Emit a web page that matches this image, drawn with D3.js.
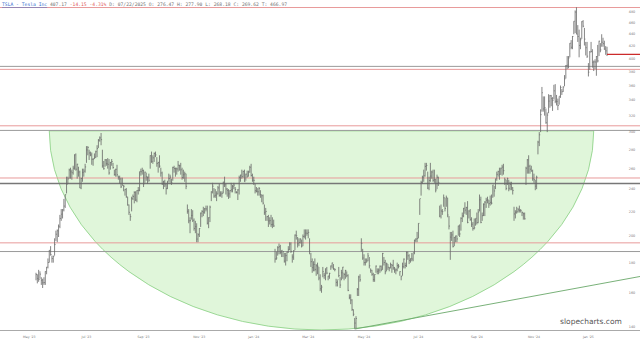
<!DOCTYPE html>
<html><head><meta charset="utf-8">
<script src="https://cdn.jsdelivr.net/npm/d3@7"></script>
<style>html,body{margin:0;padding:0;background:#fff;overflow:hidden}</style>
</head><body>
<svg id="chart" width="640" height="341"></svg>
<script>
// ---------------- DATA ----------------
const ticker = "TSLA - Tesla Inc";
const headerLast = "407.17";
const headerChange = "-14.15 -4.31%";
const headerRest = "D: 07/22/2025 O: 276.47 H: 277.90 L: 268.18 C: 269.62 T: 466.97";

const firstDay = "2023-05-08", lastDay = "2025-01-24";
const holidays = ["2023-05-29","2023-06-19","2023-07-04","2023-09-04","2023-11-23","2023-12-25",
  "2024-01-01","2024-01-15","2024-02-19","2024-03-29","2024-05-27","2024-06-19","2024-07-04",
  "2024-09-02","2024-11-28","2024-12-25","2025-01-01","2025-01-09","2025-01-20"];

const closes = [
 171.8,169.2,168.5,172.1,168.0,166.4,166.5,173.9,176.9,180.1,188.9,185.8,182.9,184.5,193.2,201.2,203.9,
 207.5,214.0,217.6,221.3,224.6,234.9,244.4,249.8,258.7,256.8,255.9,260.5,274.5,259.5,264.6,256.6,241.1,250.2,256.2,257.5,261.8,
 279.8,282.5,276.5,274.4,269.6,269.8,272.0,277.9,281.4,290.4,293.3,291.3,262.9,260.0,269.1,265.3,264.4,255.7,266.4,267.4,
 261.1,254.1,259.3,253.9,251.5,249.7,242.2,245.3,242.7,239.8,233.0,225.6,219.2,215.5,231.3,233.2,236.9,230.0,238.6,238.8,257.2,256.9,258.1,
 245.0,256.5,251.9,251.5,248.5,273.6,267.5,271.3,276.0,274.4,265.3,266.5,262.6,255.7,244.9,247.0,244.1,240.5,246.4,250.2,
 251.6,246.5,261.2,260.1,260.5,259.7,263.6,263.0,258.9,251.1,253.9,254.9,242.7,220.1,212.0,212.1,216.5,212.4,205.8,207.3,197.4,200.8,
 205.7,218.5,220.0,219.3,222.2,222.1,210.0,214.7,223.7,237.4,242.8,233.6,234.3,235.6,241.2,234.2,235.5,236.1,246.7,244.1,240.1,
 238.8,235.6,238.7,239.4,242.6,243.8,239.7,237.0,239.3,251.1,253.5,252.1,257.2,247.1,254.5,252.5,256.6,261.4,253.2,248.5,
 248.4,238.5,237.9,237.5,240.5,235.0,233.9,227.2,218.9,219.9,215.6,211.9,212.2,208.8,209.1,207.8,182.6,183.3,190.9,191.6,187.3,
 188.9,187.9,181.1,185.1,187.6,189.6,193.6,188.1,184.0,188.7,200.5,200.0,193.8,194.8,197.4,192.0,199.4,199.7,202.0,201.9,
 202.6,188.1,180.7,176.5,178.7,175.3,177.8,177.5,169.5,162.5,163.6,173.8,171.3,175.7,172.8,170.8,172.6,177.7,179.8,175.8,
 175.2,166.6,168.4,171.1,164.9,173.0,176.9,171.8,174.6,171.1,161.5,157.1,155.5,149.9,147.1,142.1,144.7,162.1,170.2,168.3,194.1,183.3,
 180.0,180.0,181.2,184.8,177.8,174.7,172.0,168.5,171.9,177.6,174.0,174.8,177.5,175.0,186.6,180.1,173.7,179.2,176.8,176.2,178.8,178.1,
 176.3,174.8,175.0,177.9,177.5,173.8,170.7,177.3,182.5,178.0,187.4,184.9,181.6,183.0,182.6,187.4,196.4,197.4,197.9,
 209.9,231.3,246.4,251.5,252.9,262.3,263.3,241.0,248.2,252.6,256.6,248.5,249.2,239.2,251.5,246.4,216.0,220.3,219.8,232.1,222.6,232.1,
 216.9,207.7,198.9,200.6,191.8,198.8,200.0,197.5,207.8,201.4,214.1,216.1,222.7,221.1,223.3,210.7,220.3,213.2,209.2,205.8,206.3,214.1,
 210.6,219.4,230.2,210.7,216.3,226.2,228.1,229.8,230.3,226.8,227.9,227.2,243.9,238.3,250.0,254.3,257.0,254.2,260.5,261.6,
 258.0,249.0,240.7,250.1,240.8,244.5,241.1,238.8,217.8,219.2,219.6,221.3,220.9,220.7,218.9,218.0,213.7,260.5,269.2,262.5,259.5,257.6,249.9,
 249.0,242.8,251.4,288.5,296.9,321.2,350.0,328.5,330.2,311.2,320.7,338.7,346.0,342.0,339.6,352.6,338.6,338.2,332.9,345.2,
 357.1,351.4,357.9,369.5,389.2,389.8,401.0,424.8,418.1,436.2,463.0,479.9,440.1,436.2,421.1,430.6,462.3,454.1,431.7,417.4,403.8,
 379.3,410.4,411.1,394.4,394.9,394.7,403.3,396.4,428.2,413.8,426.5,424.1,415.1,412.4,406.6
];
const lowHigh = [
 [168,173],[166,172],[167,175],[169,174],[165,170],[163,169],[165,170],[165,174],[172,177],[176,183],[180,189],[185,192],[180,185],[180,185],[185,198],[196,204],[195,205],
 [199,209],[206,217],[212,222],[214,222],[220,231],[223,235],[236,252],[245,252],[250,260],[250,261],[249,259],[254,263],[259,275],[258,276],[250,265],[252,262],[241,258],[240,251],[247,260],[252,260],[256,265],
 [266,284],[274,284],[269,280],[273,278],[264,277],[263,271],[270,276],[271,279],[272,285],[282,292],[289,295],[285,299],[261,280],[259,268],[262,270],[263,270],[260,271],[254,270],[259,267],[263,270],
 [260,266],[253,259],[252,260],[252,264],[249,253],[245,253],[241,251],[243,251],[238,244],[234,240],[232,241],[225,233],[217,226],[212,218],[220,233],[230,235],[227,238],[229,238],[228,239],[235,242],[238,257],[253,260],[254,261],
 [242,259],[246,257],[248,256],[245,252],[247,255],[260,274],[266,278],[265,274],[267,277],[272,278],[262,272],[256,267],[261,274],[252,261],[244,257],[240,248],[242,249],[235,245],[240,248],[247,255],
 [246,254],[244,250],[248,262],[256,263],[252,261],[254,261],[257,268],[258,264],[254,266],[249,261],[250,259],[247,257],[240,255],[218,226],[210,222],[202,215],[213,222],[211,221],[204,214],[202,212],[195,210],[195,202],
 [199,206],[207,219],[215,221],[216,224],[218,223],[220,225],[209,225],[206,215],[211,225],[229,238],[236,246],[232,241],[232,240],[229,238],[235,243],[233,245],[233,238],[232,238],[236,247],[242,252],[235,245],
 [233,241],[231,240],[232,239],[237,246],[237,244],[240,246],[236,242],[236,238],[230,240],[235,253],[247,254],[250,259],[251,258],[247,259],[248,255],[251,258],[252,258],[256,263],[252,265],[247,255],
 [244,252],[236,245],[237,242],[234,241],[234,242],[232,239],[228,235],[226,235],[217,226],[212,223],[212,216],[207,217],[209,215],[207,217],[206,215],[207,213],[180,190],[182,188],[185,192],[186,194],[186,193],
 [184,189],[184,188],[180,187],[178,187],[181,188],[187,192],[189,195],[187,195],[180,186],[182,189],[189,201],[197,204],[191,199],[192,198],[194,198],[191,197],[192,201],[198,205],[197,205],[200,205],
 [198,205],[186,198],[177,187],[173,183],[174,181],[174,183],[171,179],[172,180],[168,177],[161,172],[160,165],[170,177],[169,173],[168,176],[172,177],[168,171],[169,173],[175,178],[176,180],[175,179],
 [174,176],[164,169],[164,168],[170,177],[163,170],[168,175],[169,177],[168,173],[169,175],[170,174],[161,172],[156,159],[153,159],[149,156],[146,150],[139,145],[139,146],[158,163],[158,171],[167,172],[188,198],[182,190],
 [178,186],[178,183],[180,183],[181,187],[176,184],[173,176],[171,175],[167,173],[167,172],[173,178],[172,176],[172,176],[173,178],[174,178],[175,187],[178,184],[172,182],[174,180],[175,179],[174,177],[176,180],[173,179],
 [175,182],[173,177],[172,176],[174,180],[176,179],[171,174],[168,171],[171,180],[176,183],[176,180],[177,188],[182,188],[179,186],[180,183],[181,187],[181,187],[186,197],[195,198],[195,203],
 [198,210],[217,231],[234,248],[245,253],[247,259],[252,266],[258,266],[240,257],[239,252],[247,266],[250,258],[247,259],[246,259],[237,250],[240,254],[243,252],[215,225],[214,226],[217,222],[224,235],[220,232],[224,234],
 [215,232],[205,216],[182,203],[196,203],[191,204],[192,199],[195,200],[195,200],[200,208],[199,209],[204,215],[211,219],[215,223],[218,228],[217,224],[210,229],[214,221],[212,222],[207,215],[204,211],[205,214],[208,214],
 [209,219],[210,222],[220,235],[210,233],[212,219],[216,227],[216,229],[223,232],[227,233],[223,230],[225,234],[226,235],[232,244],[233,243],[240,250],[248,257],[252,258],[249,261],[254,261],[253,264],
 [254,265],[244,251],[239,249],[244,251],[238,249],[239,247],[239,247],[235,242],[212,224],[214,221],[218,224],[219,223],[219,225],[219,222],[216,220],[213,219],[213,219],[244,262],[255,270],[255,274],[255,264],[257,263],[248,259],
 [246,255],[239,249],[240,253],[275,290],[284,300],[300,328],[325,358],[325,345],[320,345],[310,329],[300,324],[323,348],[330,347],[332,347],[326,344],[341,361],[336,362],[333,347],[327,342],[334,345],
 [343,360],[347,355],[351,359],[359,375],[370,390],[384,404],[385,404],[402,425],[415,430],[415,437],[440,463],[442,483],[440,489],[427,456],[402,448],[415,434],[432,463],[452,465],[421,451],[405,427],[401,427],
 [373,393],[383,412],[410,427],[386,415],[381,397],[384,399],[374,404],[394,422],[404,429],[410,425],[419,440],[419,434],[414,429],[406,420],[404,419]
];

const yTicks = [140,160,180,200,220,240,260,280,300,320,340,360,380,400,420,440,460,480];
const xTickMonths = ["2023-05","2023-07","2023-09","2023-11","2024-01","2024-03","2024-05","2024-07","2024-09","2024-11","2025-01"];
const xTickLabels = ["May '23","Jul '23","Sep '23","Nov '23","Jan '24","Mar '24","May '24","Jul '24","Sep '24","Nov '24","Jan '25"];

// annotation levels (price)
const pinkLevels = [488.5, 383.5, 307.5, 250.7, 194.5];
const grayLevels = [388.0, 302.0, 188.0];
const darkLevels = [245.4];
const lastPrice = 406.6;
// rounded-bottom bowl: left/right dates, rim price, bottom price
const bowlLeft = "2023-05-22", bowlRight = "2025-01-08", bowlRim = 301.5, bowlBottom = 138.3;
// trendline anchors: [date, price]
const trendA = ["2024-04-22", 138.8], trendB = ["2025-01-24", 166.5];

// ---------------- CHART ----------------
const svg = d3.select("#chart");
const W = 640, plotBottom = 330;
const fmt = d3.utcFormat("%Y-%m-%d");
const hol = new Set(holidays);
const isTrading = d => d.getUTCDay()!==0 && d.getUTCDay()!==6 && !hol.has(fmt(d));
const start = new Date(firstDay+"T00:00:00Z");
const dates = d3.utcDays(start, d3.utcDay.offset(new Date(lastDay+"T00:00:00Z"),1)).filter(isTrading);
const dateStr = dates.map(fmt);
const n = closes.length;
if (dates.length !== n || lowHigh.length !== n) console.error("length mismatch", dates.length, n, lowHigh.length);

const x = d3.scaleLinear().domain([0, n-1]).range([36, 607]);
const y = d3.scaleLog().domain([138.3, 503.1]).range([plotBottom, 0]);
// trading-day index of a date (negative for dates before the first bar)
const idxOf = s => {
  if (s < dateStr[0]) return -d3.utcDays(new Date(s+"T00:00:00Z"), start).filter(isTrading).length;
  const i = dateStr.findIndex(d => d >= s); return i < 0 ? n-1 : i;
};

svg.append("defs").append("clipPath").attr("id","clip")
  .append("rect").attr("x",0).attr("y",0).attr("width",W).attr("height",plotBottom);

const g = svg.append("g").attr("clip-path","url(#clip)");

// bowl
const xl = x(idxOf(bowlLeft)), xr = x(idxOf(bowlRight));
const cy = y(bowlRim), rx = (xr-xl)/2, ry = y(bowlBottom)-cy;
g.append("path")
  .attr("d", `M${xl},${cy} A${rx},${ry} 0 0 0 ${xr},${cy} Z`)
  .attr("fill","#e0f6da").attr("stroke","#86cf80").attr("stroke-width",0.8);

// levels
g.selectAll(".pink").data(pinkLevels).join("line")
  .attr("x1",0).attr("x2",W).attr("y1",d=>y(d)).attr("y2",d=>y(d))
  .attr("stroke","#e89a9a").attr("stroke-width",1);
g.selectAll(".gray").data(grayLevels).join("line")
  .attr("x1",0).attr("x2",W).attr("y1",d=>y(d)).attr("y2",d=>y(d))
  .attr("stroke","#9a9a9a").attr("stroke-width",1);
g.selectAll(".dark").data(darkLevels).join("line")
  .attr("x1",0).attr("x2",W).attr("y1",d=>y(d)).attr("y2",d=>y(d))
  .attr("stroke","#777").attr("stroke-width",1.6);

// trendline
const ax = x(idxOf(trendA[0])), ay = y(trendA[1]);
const bx = x(idxOf(trendB[0])), by = y(trendB[1]);
const slope = (by-ay)/(bx-ax);
g.append("line").attr("x1",ax).attr("y1",ay).attr("x2",W).attr("y2",ay+slope*(W-ax))
  .attr("stroke","#6aa86a").attr("stroke-width",0.9);

// OHLC bars
const bars = g.append("g");
bars.selectAll("line.hl").data(lowHigh).join("line")
  .attr("x1",(d,i)=>x(i)).attr("x2",(d,i)=>x(i))
  .attr("y1",d=>y(d[0])).attr("y2",d=>y(d[1]))
  .attr("stroke","#666").attr("stroke-width",0.8);
bars.selectAll("line.c").data(closes).join("line")
  .attr("x1",(d,i)=>x(i)).attr("x2",(d,i)=>x(i)+1)
  .attr("y1",d=>y(d)).attr("y2",d=>y(d))
  .attr("stroke","#666").attr("stroke-width",0.7);

// last price line
svg.append("line").attr("x1",x(n-1)).attr("x2",W).attr("y1",y(lastPrice)).attr("y2",y(lastPrice))
  .attr("stroke","#cc2b2b").attr("stroke-width",1.4);

// bottom axis line
svg.append("line").attr("x1",0).attr("x2",W).attr("y1",plotBottom+0.5).attr("y2",plotBottom+0.5)
  .attr("stroke","#aaa").attr("stroke-width",1);

// y labels
svg.selectAll("text.yl").data(yTicks).join("text")
  .attr("x",632).attr("y",d=>y(d)).attr("dy","0.35em")
  .attr("text-anchor","middle").attr("font-family","DejaVu Sans").attr("font-size",3.4)
  .attr("fill","#777").text(d=>d);

// x labels
svg.selectAll("text.xl").data(xTickMonths).join("text")
  .attr("x",m=>x(idxOf(m+"-01"))).attr("y",337.5)
  .attr("text-anchor","middle").attr("font-family","DejaVu Sans").attr("font-size",3.2)
  .attr("fill","#777").text((m,i)=>xTickLabels[i]);

// watermark
svg.append("text").attr("x",591).attr("y",324).attr("text-anchor","middle")
  .attr("font-family","DejaVu Sans").attr("font-size",7.5).attr("fill","#555").text("slopecharts.com");

// header
const hdr = svg.append("text").attr("x",2).attr("y",6).attr("font-family","DejaVu Sans Mono").attr("font-size",4.7).attr("fill","#777");
hdr.append("tspan").attr("fill","#3a6fd0").attr("text-decoration","underline").text(ticker);
hdr.append("tspan").text(" " + headerLast);
hdr.append("tspan").attr("fill","#e06060").text(" " + headerChange);
hdr.append("tspan").text(" " + headerRest);
</script>
</body></html>
